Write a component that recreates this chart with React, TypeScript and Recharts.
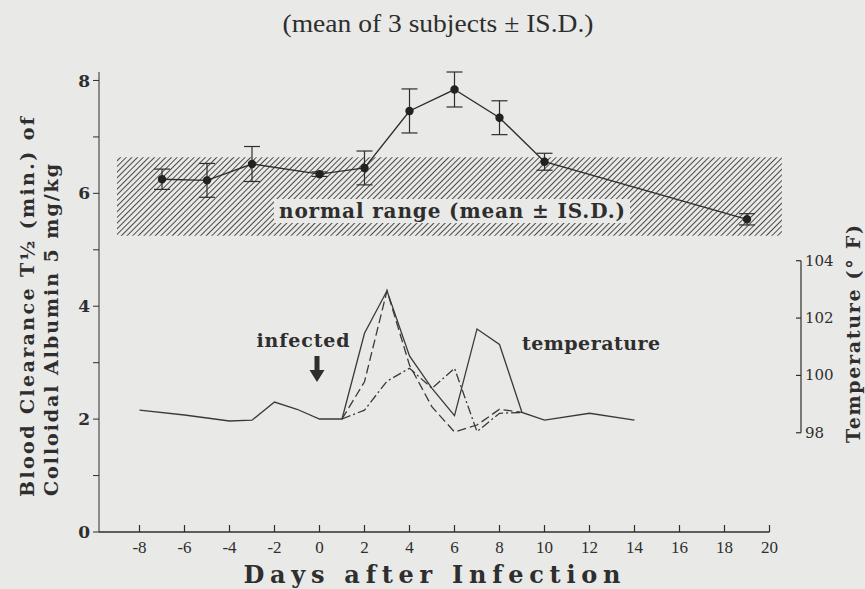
import { LineChart, Line, XAxis, YAxis, ErrorBar, ReferenceArea, ReferenceLine } from "recharts"

// blood clearance (mean of 3 subjects, ±1 S.D.)
const clearanceDays = [-7, -5, -3, 0, 2, 4, 6, 8, 10, 19]
const clearanceMean = [6.25, 6.23, 6.52, 6.34, 6.45, 7.46, 7.84, 7.34, 6.56, 5.54]
const clearanceSD = [0.18, 0.3, 0.31, 0.04, 0.3, 0.39, 0.31, 0.3, 0.15, 0.1]

// normal range band (mean ± 1 S.D.)
const normalRangeDays = [-9, 20.55]
const normalRange = [5.25, 6.64]

// temperature, °F
const tempSolidDays = [-8, -6, -4, -3, -2, -1, 0, 1, 2, 3, 4, 5, 6, 7, 8, 9, 10, 12, 14]
const tempSolid = [98.79, 98.62, 98.41, 98.44, 99.07, 98.82, 98.48, 98.48, 101.47, 102.95, 100.68, 99.55, 98.6, 101.62, 101.08, 98.71, 98.44, 98.68, 98.44]
const tempDashedDays = [1, 2, 3, 4, 5, 6, 7, 8, 9]
const tempDashed = [98.48, 99.78, 102.95, 100.36, 98.9, 98.03, 98.27, 98.82, 98.71]
const tempDashDotDays = [1, 2, 3, 4, 5, 6, 7, 8, 9]
const tempDashDot = [98.48, 98.79, 99.8, 100.25, 99.55, 100.25, 98.04, 98.68, 98.71]

const xTicks = [-8, -6, -4, -2, 0, 2, 4, 6, 8, 10, 12, 14, 16, 18, 20]
const yTicks = [0, 1, 2, 3, 4, 5, 6, 7, 8]
const tempTicks = [98, 100, 102, 104]

const X_MIN = -9.8
const X_MAX = 21.4
const X_END = 20
const TEMP_DOMAIN = [94.54, 110.58]

const INK = "#2e2e2e"
const PAPER = "#e9e9e7"
const SERIF = "'DejaVu Serif', serif"
const NARROW = "'Liberation Serif', serif"

const clearanceData = clearanceDays.map((d, i) => ({ day: d, mean: clearanceMean[i], sd: clearanceSD[i] }))
const solidData = tempSolidDays.map((d, i) => ({ day: d, t: tempSolid[i] }))
const dashedData = tempDashedDays.map((d, i) => ({ day: d, t: tempDashed[i] }))
const dashDotData = tempDashDotDays.map((d, i) => ({ day: d, t: tempDashDot[i] }))

const XTick = (props: any) => {
  const { x, y, payload } = props
  return (
    <g>
      <line x1={x} x2={x} y1={y} y2={y - 7} stroke={INK} strokeWidth={1.2} />
      <text x={x} y={y + 15} textAnchor="middle" dominantBaseline="central" fontFamily={NARROW} fontSize={17} fill={INK}>
        {payload.value}
      </text>
    </g>
  )
}

const TempTick = (props: any) => {
  const { x, y, payload } = props
  return (
    <g>
      <line x1={x - 5} x2={x} y1={y} y2={y} stroke={INK} strokeWidth={1.2} />
      <text x={x + 4} y={y} dominantBaseline="central" fontFamily={SERIF} fontSize={15} fill={INK}>
        {payload.value}
      </text>
    </g>
  )
}

export default function App() {
  return (
    <div style={{ position: "absolute", left: 0, top: 0, width: 865, height: 589, background: PAPER }}>
      <LineChart width={865} height={589} data={clearanceData} margin={{ top: 72, right: 24, bottom: 27, left: 69 }}>
        <defs>
          <pattern id="hatch" patternUnits="userSpaceOnUse" width={4} height={4} patternTransform="rotate(45)">
            <line x1={0} y1={0} x2={0} y2={4} stroke="#4a4a4a" strokeWidth={2} />
          </pattern>
        </defs>
        <XAxis
          dataKey="day"
          type="number"
          domain={[X_MIN, X_MAX]}
          allowDataOverflow
          ticks={xTicks}
          interval={0}
          axisLine={false}
          tickLine={false}
          tickSize={0}
          tickMargin={0}
          height={30}
          tick={<XTick />}
        />
        <YAxis
          yAxisId="left"
          type="number"
          domain={[0, 8]}
          ticks={yTicks}
          interval={0}
          width={30}
          tickSize={6}
          tickMargin={3}
          stroke={INK}
          tickFormatter={(v: number) => (v % 2 === 0 ? String(v) : "")}
          tick={{ fill: INK, fontFamily: SERIF, fontWeight: "bold", fontSize: 17 }}
        />
        <YAxis
          yAxisId="temp"
          orientation="right"
          type="number"
          domain={TEMP_DOMAIN}
          allowDataOverflow
          ticks={tempTicks}
          interval={0}
          width={40}
          axisLine={false}
          tickLine={false}
          tickSize={0}
          tickMargin={0}
          tick={<TempTick />}
        />
        <ReferenceArea
          yAxisId="left"
          x1={normalRangeDays[0]}
          x2={normalRangeDays[1]}
          y1={normalRange[0]}
          y2={normalRange[1]}
          fill="url(#hatch)"
          fillOpacity={1}
          stroke="none"
          ifOverflow="visible"
        />
        <ReferenceLine
          yAxisId="left"
          segment={[{ x: X_MIN, y: 0 }, { x: X_END, y: 0 }]}
          stroke={INK}
          strokeWidth={1.4}
          ifOverflow="visible"
        />
        <ReferenceLine
          yAxisId="temp"
          segment={[{ x: X_MAX, y: tempTicks[0] }, { x: X_MAX, y: tempTicks[tempTicks.length - 1] }]}
          stroke={INK}
          strokeWidth={1.2}
          ifOverflow="visible"
        />
        <Line
          yAxisId="temp"
          data={solidData}
          dataKey="t"
          stroke="#3a3a3a"
          strokeWidth={1.3}
          dot={false}
          isAnimationActive={false}
        />
        <Line
          yAxisId="temp"
          data={dashedData}
          dataKey="t"
          stroke="#3a3a3a"
          strokeWidth={1.3}
          strokeDasharray="9 4"
          dot={false}
          isAnimationActive={false}
        />
        <Line
          yAxisId="temp"
          data={dashDotData}
          dataKey="t"
          stroke="#3a3a3a"
          strokeWidth={1.3}
          strokeDasharray="9 3 2 3"
          dot={false}
          isAnimationActive={false}
        />
        <Line
          yAxisId="left"
          dataKey="mean"
          stroke={INK}
          strokeWidth={1.4}
          dot={{ r: 3.5, fill: "#222", stroke: "#222" }}
          isAnimationActive={false}
        >
          <ErrorBar dataKey="sd" width={8} stroke={INK} strokeWidth={1.2} direction="y" />
        </Line>
      </LineChart>
      <svg width={865} height={589} style={{ position: "absolute", left: 0, top: 0, pointerEvents: "none" }}>
        <text x={438} y={23} textAnchor="middle" dominantBaseline="central" fontFamily={NARROW} fontSize={26} fill={INK} textLength={311} lengthAdjust="spacingAndGlyphs">
          (mean of 3 subjects ± IS.D.)
        </text>
        <rect x={274} y={199} width={356} height={24} fill={PAPER} />
        <text x={452} y={211} textAnchor="middle" dominantBaseline="central" fontFamily={SERIF} fontWeight="bold" fontSize={20} fill={INK} textLength={346} lengthAdjust="spacing">
          normal range (mean ± IS.D.)
        </text>
        <text x={303} y={340} textAnchor="middle" dominantBaseline="central" fontFamily={SERIF} fontWeight="bold" fontSize={19} fill={INK} textLength={93} lengthAdjust="spacing">
          infected
        </text>
        <path d="M314.5 356 L319.5 356 L319.5 370 L324.5 370 L317 382 L309.5 370 L314.5 370 Z" fill={INK} />
        <text x={591} y={343} textAnchor="middle" dominantBaseline="central" fontFamily={SERIF} fontWeight="bold" fontSize={19} fill={INK} textLength={138} lengthAdjust="spacing">
          temperature
        </text>
        <text transform="translate(27 307) rotate(-90)" textAnchor="middle" dominantBaseline="central" fontFamily={SERIF} fontWeight="bold" fontSize={19} fill={INK} textLength={380} lengthAdjust="spacing">
          Blood Clearance T½ (min.) of
        </text>
        <text transform="translate(51 330) rotate(-90)" textAnchor="middle" dominantBaseline="central" fontFamily={SERIF} fontWeight="bold" fontSize={19} fill={INK} textLength={332} lengthAdjust="spacing">
          Colloidal Albumin 5 mg/kg
        </text>
        <text transform="translate(853 334) rotate(-90)" textAnchor="middle" dominantBaseline="central" fontFamily={SERIF} fontWeight="bold" fontSize={19} fill={INK} textLength={218} lengthAdjust="spacing">
          Temperature (° F)
        </text>
        <text x={432} y={574} textAnchor="middle" dominantBaseline="central" fontFamily={SERIF} fontWeight="bold" fontSize={24} fill={INK} textLength={377} lengthAdjust="spacing">
          Days after Infection
        </text>
      </svg>
    </div>
  )
}
